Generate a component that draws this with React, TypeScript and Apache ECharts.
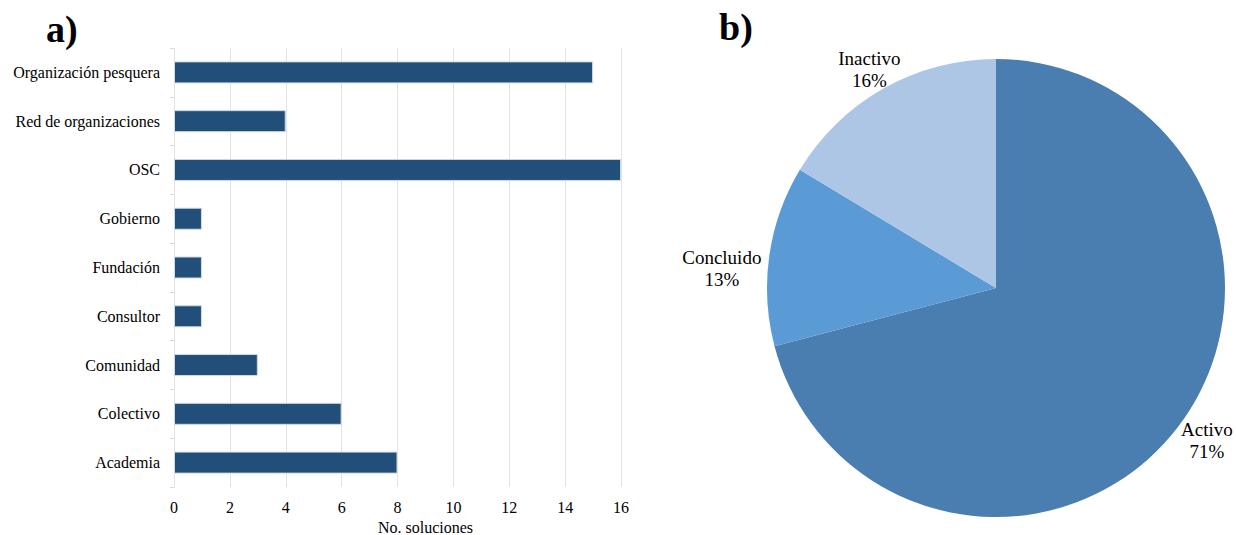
import React, { useEffect, useRef } from "react";
import * as echarts from "echarts";

const categories = [
  "Organización pesquera",
  "Red de organizaciones",
  "OSC",
  "Gobierno",
  "Fundación",
  "Consultor",
  "Comunidad",
  "Colectivo",
  "Academia",
];
const solutions = [15, 4, 16, 1, 1, 1, 3, 6, 8];
const xTicks = { min: 0, max: 16, interval: 2 };

const statusNames = ["Activo", "Concluido", "Inactivo"];
const statusCounts = [39, 7, 9];
const statusColors = ["#4a7eb0", "#5b9bd5", "#adc6e6"];
// label nudges (dx, dy) relative to ECharts' outside placement
const labelNudge = [
  [-6, 9],
  [3, 14],
  [25, -14],
];

const FONT = "Liberation Serif";

export default function App() {
  const ref = useRef<HTMLDivElement>(null);
  useEffect(() => {
    if (!ref.current) return;
    const chart = echarts.init(ref.current, undefined, { renderer: "svg" });
    chart.setOption({
      animation: false,
      textStyle: { fontFamily: FONT, color: "#000" },
      graphic: [
        {
          type: "text",
          left: 46,
          top: 10,
          style: { text: "a)", fontFamily: FONT, fontWeight: "bold", fontSize: 38, fill: "#000" },
        },
        {
          type: "text",
          left: 719,
          top: 8,
          style: { text: "b)", fontFamily: FONT, fontWeight: "bold", fontSize: 38, fill: "#000" },
        },
      ],
      grid: {
        left: 174,
        top: 48,
        width: 447,
        height: 439,
        containLabel: false,
        outerBoundsMode: "none",
      },
      xAxis: {
        type: "value",
        min: xTicks.min,
        max: xTicks.max,
        interval: xTicks.interval,
        axisLine: { show: false },
        axisTick: { show: false },
        splitLine: { show: true, lineStyle: { color: "#e3e3e3", width: 1 } },
        axisLabel: { fontFamily: FONT, fontSize: 16, color: "#000", margin: 12 },
        name: "No. soluciones",
        nameLocation: "middle",
        nameGap: 32,
        nameTextStyle: { fontFamily: FONT, fontSize: 16, color: "#000", padding: [0, 0, 0, 56] },
      },
      yAxis: {
        type: "category",
        data: categories,
        inverse: true,
        axisLine: { show: true, lineStyle: { color: "#e3e3e3" } },
        axisTick: { show: true, length: 4, lineStyle: { color: "#d9d9d9" } },
        axisLabel: { fontFamily: FONT, fontSize: 16, color: "#000", margin: 14 },
      },
      series: [
        {
          type: "bar",
          data: solutions,
          barWidth: 22,
          itemStyle: { color: "#224f7a", borderColor: "#d0d8e2", borderWidth: 1 },
        },
        {
          type: "pie",
          center: [996, 288],
          radius: 229,
          startAngle: 90,
          clockwise: true,
          percentPrecision: 0,
          data: statusNames.map((n, i) => ({
            name: n,
            value: statusCounts[i],
            itemStyle: { color: statusColors[i] },
          })),
          label: {
            show: true,
            position: "outside",
            formatter: "{b}\n{d}%",
            fontFamily: FONT,
            fontSize: 19,
            lineHeight: 22,
            color: "#000",
            overflow: "none",
          },
          labelLine: { show: false, length: 6, length2: 0 },
          labelLayout: (params: any) => {
            const r = params.labelRect;
            const [dx, dy] = labelNudge[params.dataIndex] || [0, 0];
            return {
              x: r.x + r.width / 2 + dx,
              y: r.y + r.height / 2 + dy,
              align: "center",
              verticalAlign: "middle",
            };
          },
        },
      ],
    });
    return () => chart.dispose();
  }, []);
  return (
    <div
      ref={ref}
      style={{ position: "fixed", left: 0, top: 0, width: 1236, height: 535, background: "#fff" }}
    />
  );
}
